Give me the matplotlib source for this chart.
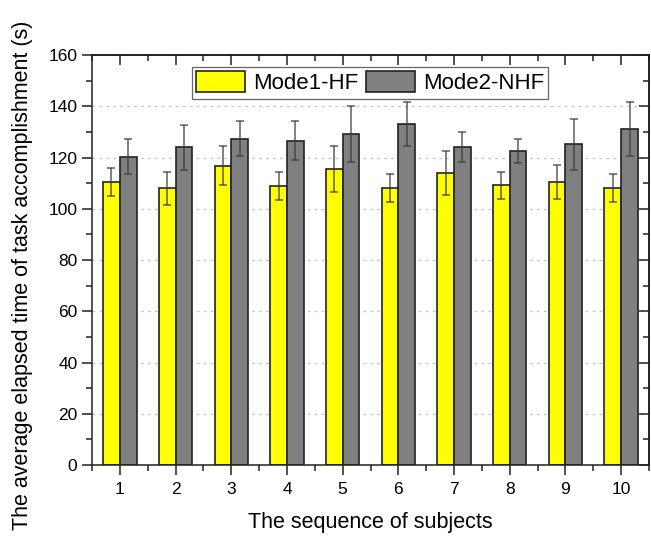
import numpy as np
import matplotlib.pyplot as plt
from matplotlib.ticker import MultipleLocator

plt.rcParams['font.family'] = ['Liberation Sans', 'DejaVu Sans']

# ---- data ----
subjects = [1, 2, 3, 4, 5, 6, 7, 8, 9, 10]
hf_mean = [110.3, 108.0, 116.8, 109.0, 115.5, 108.0, 114.0, 109.1, 110.4, 108.0]
hf_sd = [5.5, 6.5, 7.7, 5.5, 9.0, 5.4, 8.6, 5.4, 6.6, 5.4]
nhf_mean = [120.3, 124.0, 127.3, 126.6, 129.2, 133.1, 124.2, 122.5, 125.1, 131.1]
nhf_sd = [6.8, 8.7, 6.9, 7.6, 10.8, 8.7, 5.9, 4.7, 9.8, 10.6]
labels = ['Mode1-HF', 'Mode2-NHF']

x = np.array(subjects)
w = 0.3

fig = plt.figure(figsize=(6.51, 5.37), dpi=100)
ax = fig.add_axes([0.1413, 0.134, 0.8557, 0.7636])

err_kw = dict(ecolor='#3a3a3a', elinewidth=1.2, capsize=3, capthick=1.2, alpha=0.75)
ax.bar(x - w / 2, hf_mean, w, yerr=hf_sd, color='#FFFF00', edgecolor='#222222',
       linewidth=1.2, label=labels[0], error_kw=err_kw, zorder=2)
ax.bar(x + w / 2, nhf_mean, w, yerr=nhf_sd, color='#808080', edgecolor='#222222',
       linewidth=1.2, label=labels[1], error_kw=err_kw, zorder=2)

ax.set_xlim(0.5, 10.5)
ax.set_ylim(0, 160)
ax.set_xticks(subjects)
ax.xaxis.set_minor_locator(MultipleLocator(0.5))
ax.yaxis.set_major_locator(MultipleLocator(20))
ax.yaxis.set_minor_locator(MultipleLocator(10))

# dotted horizontal grid at the inner major ticks
for yv in range(20, 160, 20):
    ax.axhline(yv, color='#c8c8c8', linestyle=(0, (2, 3)), linewidth=1.0, zorder=0)

for s in ax.spines.values():
    s.set_linewidth(1.1)
    s.set_color('#222222')

ax.tick_params(axis='both', which='major', labelsize=12.5, length=7, width=1.1, color='#222222')
ax.tick_params(axis='both', which='minor', length=4, width=1.1, color='#222222')
ax.tick_params(axis='x', which='both', direction='out', top=False)
ax.tick_params(axis='x', which='major', pad=5)
ax.tick_params(axis='y', which='both', direction='out', right=False)

# mirrored inward ticks on top and right
axt = ax.secondary_xaxis('top')
axt.set_xticks(subjects)
axt.xaxis.set_minor_locator(MultipleLocator(0.5))
axt.tick_params(which='major', direction='in', length=7, width=1.1, labeltop=False, color='#222222')
axt.tick_params(which='minor', direction='in', length=4, width=1.1, color='#222222')
axt.spines['top'].set_linewidth(1.1)
axr = ax.secondary_yaxis('right')
axr.yaxis.set_major_locator(MultipleLocator(20))
axr.yaxis.set_minor_locator(MultipleLocator(10))
axr.tick_params(which='major', direction='in', length=7, width=1.1, labelright=False, color='#222222')
axr.tick_params(which='minor', direction='in', length=4, width=1.1, color='#222222')
axr.spines['right'].set_linewidth(1.1)

ax.set_xlabel('The sequence of subjects', fontsize=15.5, labelpad=11)
ax.set_ylabel('The average elapsed time of task accomplishment (s)', fontsize=15.5)
ax.yaxis.set_label_coords(-0.106, 0.463)

leg = ax.legend(loc='upper left', bbox_to_anchor=(0.1795, 0.9707), borderaxespad=0,
                ncol=2, fontsize=16, handlelength=2.2, handleheight=1.05,
                handletextpad=0.35, columnspacing=0.35, borderpad=0.2,
                fancybox=False, framealpha=1, edgecolor='#666666')
leg.get_frame().set_linewidth(0.9)

fig.savefig('out.png', dpi=100)
